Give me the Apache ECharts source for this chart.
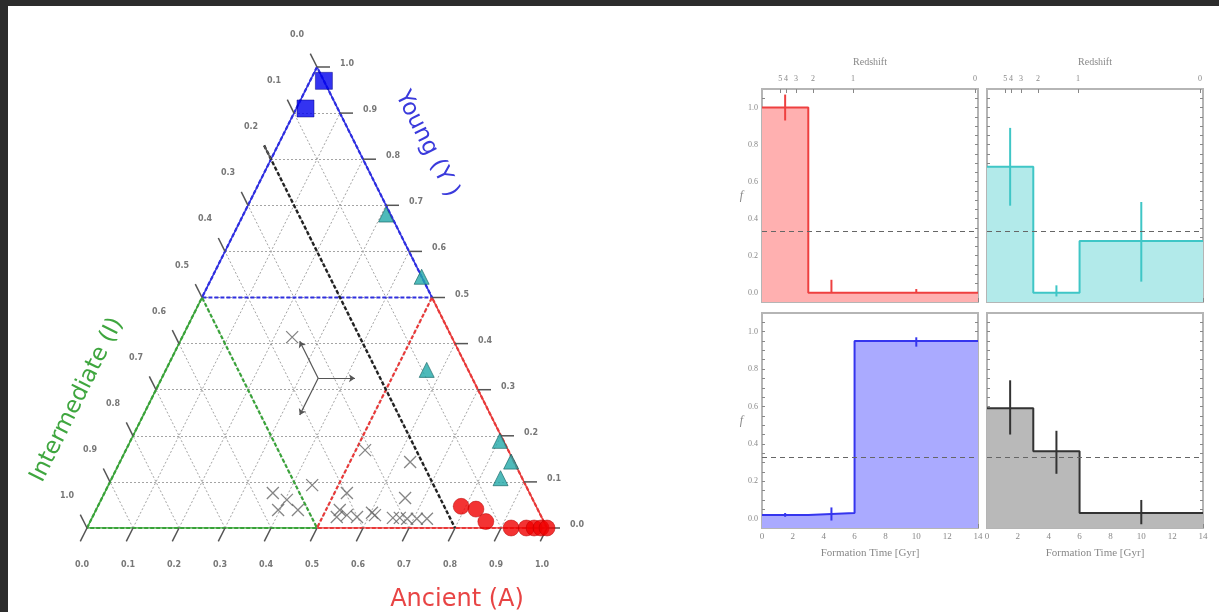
<!DOCTYPE html>
<html><head><meta charset="utf-8">
<script src="https://cdn.jsdelivr.net/npm/echarts@6/dist/echarts.min.js"></script>
<style>html,body{margin:0;padding:0;background:#fff;}#c{width:1219px;height:612px;}</style>
</head><body><div id="c"></div>
<script>
// ---------- Ternary data: [Ancient, Intermediate, Young] ----------
const youngSquares = [[0.03,0.00,0.97],[0.02,0.07,0.91]];
const mixedTriangles = [[0.31,0.01,0.68],[0.455,0.0,0.545],[0.567,0.09,0.343],[0.803,0.008,0.189],[0.85,0.006,0.144],[0.845,0.047,0.108]];
const ancientCircles = [[0.79,0.163,0.047],[0.825,0.134,0.041],[0.86,0.126,0.014],[0.922,0.078,0.0],[0.955,0.045,0.0],[0.972,0.028,0.0],[0.987,0.013,0.0],[1.0,0.0,0.0]];
const otherCrosses = [[0.239,0.347,0.414],[0.52,0.311,0.169],[0.631,0.226,0.143],[0.443,0.464,0.093],[0.659,0.276,0.065],
  [0.527,0.397,0.076],[0.366,0.558,0.076],[0.404,0.535,0.061],[0.396,0.565,0.039],[0.439,0.522,0.039],[0.53,0.431,0.039],
  [0.531,0.445,0.024],[0.551,0.421,0.028],[0.575,0.401,0.024],[0.603,0.364,0.033],[0.612,0.36,0.028],[0.654,0.324,0.022],
  [0.669,0.309,0.022],[0.686,0.294,0.02],[0.707,0.273,0.02],[0.729,0.251,0.02]];
const ternaryTicks = [0,0.1,0.2,0.3,0.4,0.5,0.6,0.7,0.8,0.9,1.0];
const ternaryTickLabels = ['0.0','0.1','0.2','0.3','0.4','0.5','0.6','0.7','0.8','0.9','1.0'];
const regionSplit = 0.5;        // dominance threshold for the coloured sub-triangles
const intermediateCut = 0.2;    // black dashed line (I = 0.2)
const arrowCentre = [0.34,0.335,0.325];
const arrowLen = 0.08;

// ---------- Histogram data ----------
const binEdges = [0,3,6,14];
const binCentres = [1.5,4.5,10];
const ancientHist = [1.0,0.0,0.0];
const ancientLo = [0.93,0.0,0.0];
const ancientHi = [1.07,0.07,0.02];
const mixedHist = [0.68,0.0,0.28];
const mixedLo = [0.47,-0.02,0.06];
const mixedHi = [0.89,0.04,0.49];
const youngHist = [0.02,0.03,0.95];
const youngLo = [0.01,-0.01,0.92];
const youngHi = [0.03,0.06,0.97];
const otherHist = [0.59,0.36,0.03];
const otherLo = [0.45,0.24,-0.03];
const otherHi = [0.74,0.47,0.10];
const uniformFrac = 1/3;
const timeTicks = [0,2,4,6,8,10,12,14];
const fracTicks = [0,0.2,0.4,0.6,0.8,1.0];
const redshiftLabels = ['6','5','4','3','2','1','0'];
const redshiftTimes = [0.95,1.18,1.55,2.2,3.3,5.9,13.8];

// ---------- helpers ----------
function tern(p){ const s=p[0]+p[1]+p[2]; const A=p[0]/s, Y=p[2]/s; return [A+Y/2, Y]; }
const fracMinor = []; for(let k=0;k<=21;k++) fracMinor.push(+(k*0.05).toFixed(2));
const timeMinor = []; for(let k=0;k<=14;k++) timeMinor.push(k);
const noLabel = {show:false, formatter:function(){return '';}};
const noLine = {show:false, onZero:false};

const gridSegs=[];
ternaryTicks.slice(1,-1).forEach(v=>{
  gridSegs.push({coords:[tern([0,1-v,v]), tern([1-v,0,v])]});
  gridSegs.push({coords:[tern([v,1-v,0]), tern([v,0,1-v])]});
  gridSegs.push({coords:[tern([1-v,v,0]), tern([0,v,1-v])]});
});
const tickItems=[], tickText=[];
ternaryTicks.forEach((v,k)=>{
  tickItems.push([...tern([v,1-v,0]),0]); tickText.push(ternaryTickLabels[k]);
  tickItems.push([...tern([1-v,0,v]),1]); tickText.push(ternaryTickLabels[k]);
  tickItems.push([...tern([0,v,1-v]),2]); tickText.push(ternaryTickLabels[k]);
});
const tickDirs=[[-6.7,13.4],[13,0],[-6.7,-13.4]];
const labelOffs=[[-5,37],[30,-3],[-20,-32]];

const s=regionSplit;
const topV=[0,0,1], leftV=[0,1,0], rightV=[1,0,0];
const mLeft=[0,1-s,s], mRight=[1-s,0,s], mBottom=[s,1-s,0];
function seg(a,b){return {coords:[tern(a),tern(b)]};}
function tri(a,b,c){return {coords:[tern(a),tern(b),tern(c),tern(a)]};}

const c=arrowCentre, d=arrowLen;
const arrowSegs=[
  {coords:[tern(c), tern([c[0]+d,c[1]-d,c[2]])]},
  {coords:[tern(c), tern([c[0]-d,c[1],c[2]+d])]},
  {coords:[tern(c), tern([c[0],c[1]+d,c[2]-d])]}
];
const ic=intermediateCut;
const cutLine=[{coords:[tern([-0.03,ic,1-ic+0.03]), tern([1-ic,ic,0])]}];

// ---------- options ----------
const grids=[{left:87, top:67, width:460, height:461, show:false}];
const xAxes=[{gridIndex:0,type:'value',min:0,max:1,show:false}];
const yAxes=[{gridIndex:0,type:'value',min:0,max:1,show:false}];
const series=[];

series.push({type:'lines',coordinateSystem:'cartesian2d',xAxisIndex:0,yAxisIndex:0,data:gridSegs,silent:true,z:1,
  lineStyle:{color:'#9a9a9a',width:0.9,type:[2,2],opacity:1}});
const regions=[
  {color:'#2f2fe0', tri:tri(topV,mLeft,mRight), outer:[seg(topV,mLeft),seg(topV,mRight)]},
  {color:'#3aa33a', tri:tri(leftV,mLeft,mBottom), outer:[seg(leftV,mLeft),seg(leftV,mBottom)]},
  {color:'#e83a3a', tri:tri(rightV,mRight,mBottom), outer:[seg(rightV,mRight),seg(rightV,mBottom)]}
];
regions.forEach(r=>{
  series.push({type:'lines',coordinateSystem:'cartesian2d',xAxisIndex:0,yAxisIndex:0,polyline:true,data:[r.tri],silent:true,z:3,
    lineStyle:{color:r.color,width:2.2,type:[4,2],opacity:1}});
  series.push({type:'lines',coordinateSystem:'cartesian2d',xAxisIndex:0,yAxisIndex:0,data:r.outer,silent:true,z:3,
    lineStyle:{color:r.color,width:1.6,opacity:1}});
});
series.push({type:'lines',coordinateSystem:'cartesian2d',xAxisIndex:0,yAxisIndex:0,data:cutLine,silent:true,z:4,
  lineStyle:{color:'#222',width:2.4,type:[4,2],opacity:1}});
series.push({type:'lines',coordinateSystem:'cartesian2d',xAxisIndex:0,yAxisIndex:0,data:arrowSegs,silent:true,z:4,
  symbol:['none','arrow'],symbolSize:6,lineStyle:{color:'#555',width:1.2,opacity:1}});
series.push({type:'custom',xAxisIndex:0,yAxisIndex:0,data:tickItems,clip:false,silent:true,z:5,
  encode:{x:0,y:1},
  renderItem:function(params,api){
    const p=api.coord([api.value(0),api.value(1)]);
    const k=api.value(2), dv=tickDirs[k], o=labelOffs[k];
    return {type:'group',children:[
      {type:'line',shape:{x1:p[0],y1:p[1],x2:p[0]+dv[0],y2:p[1]+dv[1]},style:{stroke:'#555',lineWidth:1.5}},
      {type:'text',style:{text:tickText[params.dataIndex],x:p[0]+o[0],y:p[1]+o[1],align:'center',verticalAlign:'middle',
        fill:'#777',fontSize:8,fontWeight:'bold',fontFamily:'DejaVu Sans'}}
    ]};
  }});
series.push({type:'scatter',xAxisIndex:0,yAxisIndex:0,data:otherCrosses.map(tern),clip:false,z:6,
  symbol:'path://M0,0L10,10M10,0L0,10',symbolSize:12,itemStyle:{color:'transparent',borderColor:'#666',borderWidth:1.3}});
series.push({type:'scatter',xAxisIndex:0,yAxisIndex:0,data:mixedTriangles.map(tern),clip:false,z:7,
  symbol:'triangle',symbolSize:15,itemStyle:{color:'#22a9a9',borderColor:'#116060',borderWidth:0.8}});
series.push({type:'scatter',xAxisIndex:0,yAxisIndex:0,data:ancientCircles.map(tern),clip:false,z:8,
  symbol:'circle',symbolSize:16,itemStyle:{color:'#f00000',borderColor:'#b00000',borderWidth:0.6}});
series.push({type:'scatter',xAxisIndex:0,yAxisIndex:0,data:youngSquares.map(tern),clip:false,z:8,
  symbol:'rect',symbolSize:17,itemStyle:{color:'#0000ee',borderColor:'#000080',borderWidth:0.6}});

// ---------- histogram panels ----------
const panels=[
  {vals:ancientHist,lo:ancientLo,hi:ancientHi,line:'#ee4040',fill:'#ffb0b0',left:762,top:89,height:213,xlab:false,ylab:true,z:true},
  {vals:mixedHist,lo:mixedLo,hi:mixedHi,line:'#3fc6c6',fill:'#b2eaea',left:987,top:89,height:213,xlab:false,ylab:false,z:true},
  {vals:youngHist,lo:youngLo,hi:youngHi,line:'#3535ee',fill:'#aaaaff',left:762,top:313,height:215,xlab:true,ylab:true,z:false},
  {vals:otherHist,lo:otherLo,hi:otherHi,line:'#333333',fill:'#b9b9b9',left:987,top:313,height:215,xlab:true,ylab:false,z:false}
];
const serif='Liberation Serif';
panels.forEach((p,i)=>{
  const g=grids.length;
  grids.push({left:p.left,top:p.top,width:216,height:p.height,show:true,borderColor:'#b5b5b5',borderWidth:2,backgroundColor:'#fff'});
  const xb=xAxes.length;
  const xLab = p.xlab ? {show:true,customValues:timeTicks,interval:0,margin:4,fontSize:9,color:'#888',fontFamily:serif} : noLabel;
  xAxes.push({gridIndex:g,type:'value',min:0,max:14,position:'bottom',
    axisLine:noLine,splitLine:{show:false},
    axisTick:{inside:true,length:4,customValues:timeMinor,lineStyle:{color:'#888'}},
    axisLabel:xLab,
    name:p.xlab?'Formation Time [Gyr]':'',nameLocation:'middle',nameGap:20,
    nameTextStyle:{fontSize:11,color:'#888',fontFamily:serif}});
  const zLab = p.z ? {show:true,customValues:redshiftTimes,interval:0,hideOverlap:false,margin:6,fontSize:8,color:'#888',fontFamily:serif,
      formatter:function(v){let b=0;for(let k=0;k<redshiftTimes.length;k++){if(Math.abs(redshiftTimes[k]-v)<Math.abs(redshiftTimes[b]-v))b=k;}return redshiftLabels[b];}} : noLabel;
  xAxes.push({gridIndex:g,type:'value',min:0,max:14,position:'top',
    axisLine:noLine,splitLine:{show:false},
    axisTick:p.z?{show:true,inside:true,length:4,customValues:redshiftTimes,lineStyle:{color:'#888'}}:{show:false},
    axisLabel:zLab,
    name:p.z?'Redshift':'',nameLocation:'middle',nameGap:22,nameTextStyle:{fontSize:10,color:'#888',fontFamily:serif}});
  const yl=yAxes.length;
  const yLab = p.ylab ? {show:true,customValues:fracTicks,interval:0,margin:4,fontSize:8,color:'#888',fontFamily:serif,formatter:v=>v.toFixed(1)} : noLabel;
  yAxes.push({gridIndex:g,type:'value',min:-0.05,max:1.1,position:'left',
    axisLine:noLine,splitLine:{show:false},
    axisTick:{inside:true,length:3,customValues:fracMinor,lineStyle:{color:'#888'}},
    axisLabel:yLab,
    name:p.ylab?'f':'',nameLocation:'middle',nameGap:17,nameRotate:0,
    nameTextStyle:{fontSize:12,color:'#888',fontFamily:serif,fontStyle:'italic'}});
  yAxes.push({gridIndex:g,type:'value',min:-0.05,max:1.1,position:'right',
    axisLine:noLine,splitLine:{show:false},
    axisTick:{inside:true,length:3,customValues:fracMinor,lineStyle:{color:'#888'}},
    axisLabel:noLabel});
  const stepData=binEdges.map((e,k)=>[e,p.vals[Math.min(k,p.vals.length-1)]]);
  series.push({type:'line',xAxisIndex:xb,yAxisIndex:yl,data:stepData,step:'end',symbol:'none',silent:true,z:2,
    lineStyle:{color:p.line,width:2},areaStyle:{color:p.fill,opacity:1,origin:'start'},
    markLine:{silent:true,symbol:['none','none'],label:{show:false},data:[{yAxis:uniformFrac}],
      lineStyle:{color:'#666',width:1,type:[5,4]}}});
  series.push({type:'custom',xAxisIndex:xb,yAxisIndex:yl,silent:true,z:3,clip:false,
    data:binCentres.map((cx,k)=>[cx,p.lo[k],p.hi[k]]),encode:{x:0,y:[1,2]},
    renderItem:function(params,api){
      const a=api.coord([api.value(0),api.value(1)]), b=api.coord([api.value(0),api.value(2)]);
      return {type:'line',shape:{x1:a[0],y1:a[1],x2:b[0],y2:b[1]},style:{stroke:p.line,lineWidth:2}};
    }});
});

const option={
  backgroundColor:'#ffffff',
  animation:false,
  grid:grids, xAxis:xAxes, yAxis:yAxes, series:series,
  graphic:[
    {type:'rect',z:100,shape:{x:0,y:0,width:1219,height:6},style:{fill:'#2c2c2c'}},
    {type:'rect',z:100,shape:{x:0,y:0,width:8,height:612},style:{fill:'#2c2c2c'}},
    {type:'text',z:100,x:427,y:144,rotation:-1.107,style:{text:'Young (Y )',fill:'#3a3adc',fontSize:23,fontFamily:'DejaVu Sans',align:'center',verticalAlign:'middle'}},
    {type:'text',z:100,x:77,y:400,rotation:1.107,style:{text:'Intermediate (I)',fill:'#3fa63f',fontSize:23,fontFamily:'DejaVu Sans',align:'center',verticalAlign:'middle'}},
    {type:'text',z:100,x:457,y:600,style:{text:'Ancient (A)',fill:'#e84444',fontSize:24,fontFamily:'DejaVu Sans',align:'center',verticalAlign:'middle'}}
  ]
};
const chart=echarts.init(document.getElementById('c'));
chart.setOption(option);
</script></body></html>
